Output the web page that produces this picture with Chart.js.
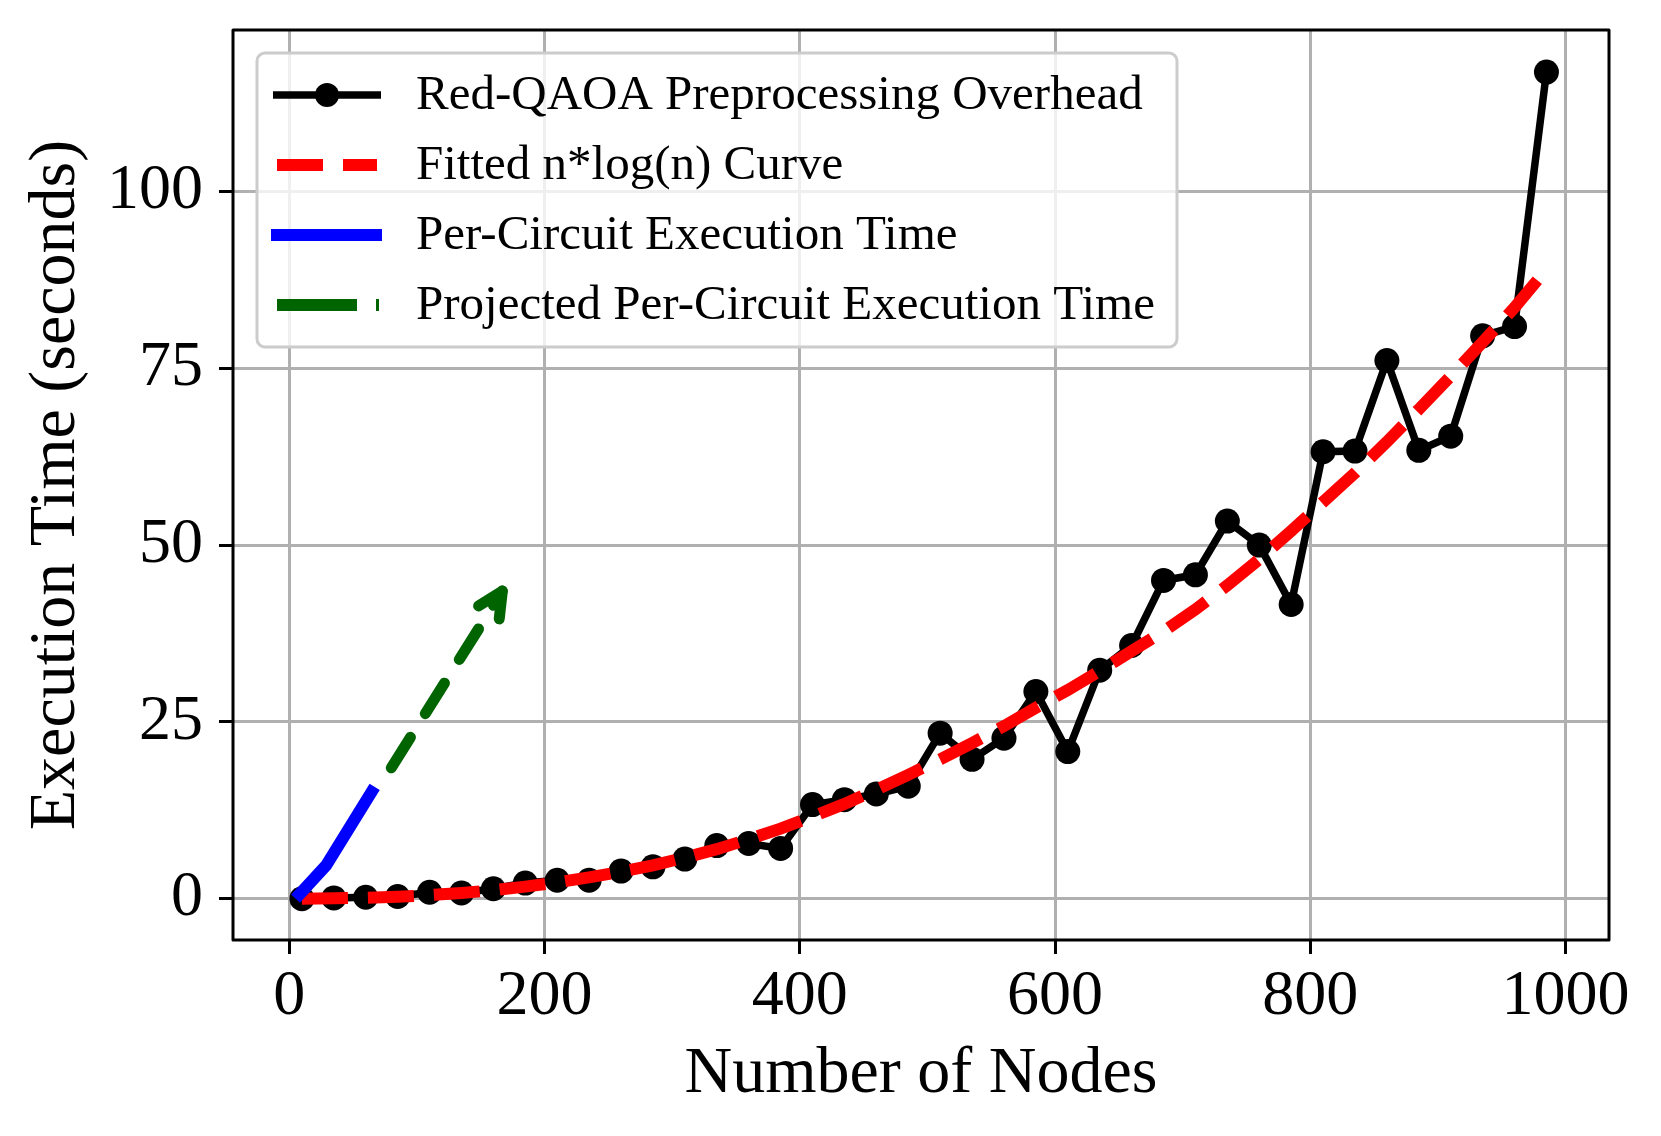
<!DOCTYPE html>
<html>
<head>
<meta charset="utf-8">
<title>Red-QAOA preprocessing overhead</title>
<script src="https://cdn.jsdelivr.net/npm/chart.js@4.4.1/dist/chart.umd.min.js"></script>
<style>
  html, body { margin: 0; padding: 0; background: #fff; }
  #wrap { width: 1661px; height: 1136px; }
</style>
</head>
<body>
<div id="wrap"><canvas id="chart" width="1661" height="1136"></canvas></div>
<script>
// values
const nodes = [10, 35, 60, 85, 110, 135, 160, 185, 210, 235,
               260, 285, 310, 335, 360, 385, 410, 435, 460, 485,
               510, 535, 560, 585, 610, 635, 660, 685, 710, 735,
               760, 785, 810, 835, 860, 885, 910, 935, 960, 985];
const overhead = [0.0, 0.1, 0.2, 0.3, 0.9, 0.8, 1.4, 2.2, 2.6, 2.6,
                  3.9, 4.5, 5.6, 7.5, 7.8, 7.1, 13.3, 14.0, 14.8, 15.9,
                  23.4, 19.7, 22.7, 29.3, 20.8, 32.3, 35.8, 45.0, 45.8, 53.4,
                  50.0, 41.6, 63.2, 63.3, 76.1, 63.4, 65.4, 79.6, 80.9, 116.9];
const fitted = [0.0, 0.05, 0.12, 0.27, 0.5, 0.8, 1.2, 1.7, 2.3, 3.0,
                3.8, 4.7, 5.8, 7.0, 8.4, 9.9, 11.6, 13.4, 15.4, 17.5,
                19.7, 22.0, 24.4, 27.0, 29.5, 32.2, 35.0, 37.8, 40.9, 44.3,
                48.0, 52.0, 56.1, 60.2, 64.6, 69.2, 73.9, 78.7, 83.6, 89.0];
const circuitNodes = [5, 29, 67];
const circuitTime = [0.0, 4.7, 15.8];
const projectedNodes = [80, 167];
const projectedTime = [18.5, 43.5];

const xTicks = [0, 200, 400, 600, 800, 1000];
const yTicks = [0, 25, 50, 75, 100];
const seriesNames = ['Red-QAOA Preprocessing Overhead', 'Fitted n*log(n) Curve',
                     'Per-Circuit Execution Time', 'Projected Per-Circuit Execution Time'];
const xTitle = 'Number of Nodes';
const yTitle = 'Execution Time (seconds)';

const serif = '"Liberation Serif", "Times New Roman", serif';
const colors = { overhead: '#000000', fitted: '#ff0000', circuit: '#0000ff', projected: '#006400' };

const toPoints = (xs, ys) => xs.map((x, i) => ({ x: x, y: ys[i] }));

// arrowhead, axes frame and matplotlib-like legend
const extras = {
    id: 'extras',
    afterDatasetsDraw(chart) {
        const ctx = chart.ctx;
        const pts = chart.getDatasetMeta(3).data;
        const a = pts[pts.length - 2], b = pts[pts.length - 1];
        const ang = Math.atan2(b.y - a.y, b.x - a.x);
        ctx.save();
        ctx.strokeStyle = colors.projected;
        ctx.lineWidth = 11;
        ctx.lineCap = 'round';
        ctx.lineJoin = 'round';
        ctx.beginPath();
        [-1, 1].forEach(s => {
            ctx.moveTo(b.x, b.y);
            ctx.lineTo(b.x - 28 * Math.cos(ang + s * 0.45), b.y - 28 * Math.sin(ang + s * 0.45));
        });
        ctx.stroke();

        const { left, right, top, bottom } = chart.chartArea;
        ctx.lineWidth = 3;
        ctx.strokeStyle = '#000';
        ctx.lineCap = 'butt';
        ctx.strokeRect(left, top, right - left, bottom - top);
        ctx.restore();
    },
    afterDraw(chart) {
        const ctx = chart.ctx;
        ctx.save();
        ctx.beginPath();
        ctx.roundRect(257, 53, 920, 294, 8);
        ctx.fillStyle = 'rgba(255,255,255,0.8)';
        ctx.fill();
        ctx.lineWidth = 3;
        ctx.strokeStyle = '#cccccc';
        ctx.stroke();

        const rows = [95, 165, 235, 305];
        const handles = [
            { color: colors.overhead, width: 7.5, dash: [], x0: 273, x1: 381, marker: true },
            { color: colors.fitted, width: 12, dash: [46, 20], x0: 277, x1: 377 },
            { color: colors.circuit, width: 12, dash: [], x0: 271, x1: 382 },
            { color: colors.projected, width: 12, dash: [80, 19], x0: 277, x1: 379 }
        ];
        handles.forEach((h, i) => {
            const y = rows[i];
            ctx.beginPath();
            ctx.setLineDash(h.dash);
            ctx.lineWidth = h.width;
            ctx.strokeStyle = h.color;
            ctx.lineCap = 'butt';
            ctx.moveTo(h.x0, y);
            ctx.lineTo(h.x1, y);
            ctx.stroke();
            ctx.setLineDash([]);
            if (h.marker) {
                ctx.beginPath();
                ctx.arc((h.x0 + h.x1) / 2, y, 12, 0, Math.PI * 2);
                ctx.fillStyle = h.color;
                ctx.fill();
            }
            ctx.fillStyle = '#000';
            ctx.font = '49px ' + serif;
            ctx.textBaseline = 'middle';
            ctx.textAlign = 'left';
            ctx.fillText(seriesNames[i], 416, y + 1);
        });
        ctx.restore();
    }
};

new Chart(document.getElementById('chart'), {
    type: 'scatter',
    data: {
        datasets: [
            {
                label: seriesNames[0],
                data: toPoints(nodes, overhead),
                showLine: true,
                borderColor: colors.overhead,
                backgroundColor: colors.overhead,
                borderWidth: 7.5,
                pointRadius: 12.5,
                pointBorderWidth: 0,
                pointBackgroundColor: colors.overhead,
                order: 4
            },
            {
                label: seriesNames[1],
                data: toPoints(nodes, fitted),
                showLine: true,
                borderColor: colors.fitted,
                borderWidth: 12,
                borderDash: [46, 20],
                pointRadius: 0,
                order: 3
            },
            {
                label: seriesNames[2],
                data: toPoints(circuitNodes, circuitTime),
                showLine: true,
                borderColor: colors.circuit,
                borderWidth: 12,
                pointRadius: 0,
                order: 2
            },
            {
                label: seriesNames[3],
                data: toPoints(projectedNodes, projectedTime),
                showLine: true,
                borderColor: colors.projected,
                borderWidth: 11,
                borderDash: [36, 28],
                borderCapStyle: 'round',
                pointRadius: 0,
                order: 1
            }
        ]
    },
    options: {
        responsive: false,
        devicePixelRatio: 1,
        animation: false,
        layout: { padding: { top: 30, right: 52, left: 0, bottom: 0 } },
        plugins: { legend: { display: false }, tooltip: { enabled: false } },
        scales: {
            x: {
                type: 'linear',
                min: -44,
                max: 1034,
                afterBuildTicks: s => { s.ticks = xTicks.map(v => ({ value: v })); },
                afterFit: s => { s.height = 196; s.paddingLeft = 0; s.paddingRight = 0; },
                border: { display: false },
                grid: { color: '#b0b0b0', lineWidth: 3, tickLength: 14, tickColor: '#000', tickWidth: 3 },
                ticks: {
                    color: '#000', padding: 5, maxRotation: 0, autoSkip: false,
                    font: { family: serif, size: 64, lineHeight: 1.2 },
                    callback: v => String(v)
                },
                title: {
                    display: true, text: xTitle, color: '#000',
                    font: { family: serif, size: 66, lineHeight: 1.2 },
                    padding: { top: 0, bottom: 22 }
                }
            },
            y: {
                type: 'linear',
                min: -5.85,
                max: 122.85,
                afterBuildTicks: s => { s.ticks = yTicks.map(v => ({ value: v })); },
                afterFit: s => { s.width = 233; s.paddingTop = 0; s.paddingBottom = 0; },
                border: { display: false },
                grid: { color: '#b0b0b0', lineWidth: 3, tickLength: 14, tickColor: '#000', tickWidth: 3 },
                ticks: {
                    color: '#000', padding: 16, autoSkip: false,
                    font: { family: serif, size: 64, lineHeight: 1.2 },
                    callback: v => String(v)
                },
                title: {
                    display: true, text: yTitle, color: '#000',
                    font: { family: serif, size: 66, lineHeight: 1.2 },
                    padding: { top: 17, bottom: 0 }
                }
            }
        }
    },
    plugins: [extras]
});
</script>
</body>
</html>
